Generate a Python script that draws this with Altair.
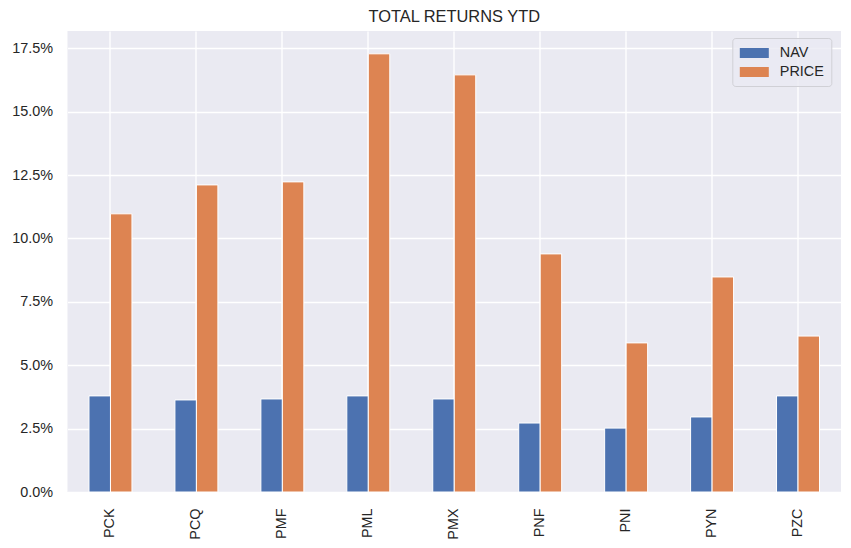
import altair as alt
import pandas as pd

funds = ["PCK", "PCQ", "PMF", "PML", "PMX", "PNF", "PNI", "PYN", "PZC"]
nav = [3.79, 3.63, 3.67, 3.79, 3.67, 2.72, 2.52, 2.96, 3.79]
price = [10.97, 12.11, 12.23, 17.28, 16.45, 9.39, 5.88, 8.48, 6.15]
series = ["NAV", "PRICE"]
colors = ["#4c72b0", "#dd8452"]
y_ticks = [0, 2.5, 5.0, 7.5, 10.0, 12.5, 15.0, 17.5]
y_max = 18.18

df = pd.DataFrame({
    "fund": funds * 2,
    "series": ["NAV"] * len(funds) + ["PRICE"] * len(funds),
    "value": nav + price,
})

FONT = "Liberation Sans"
TXT = "#262626"

bars = alt.Chart(df).mark_bar(stroke="white", strokeWidth=1).encode(
    x=alt.X(
        "fund:N", sort=funds, title=None,
        scale=alt.Scale(paddingInner=0.5, paddingOuter=0.25),
        axis=alt.Axis(labelAngle=270, bandPosition=0.5, labelPadding=16, ticks=False,
                      domain=False, grid=True, gridColor="white", gridWidth=1.3,
                      labelFontSize=14.4, labelColor=TXT, labelFont=FONT),
    ),
    xOffset=alt.XOffset("series:N", sort=series,
                        scale=alt.Scale(paddingInner=0, paddingOuter=0)),
    y=alt.Y(
        "value:Q", title=None,
        scale=alt.Scale(domain=[0, y_max], nice=False),
        axis=alt.Axis(values=y_ticks, labelExpr="format(datum.value, '.1f') + '%'",
                      ticks=False, domain=False, grid=True, gridColor="white", gridWidth=1.3,
                      labelPadding=15, labelFontSize=14.4, labelColor=TXT, labelFont=FONT,
                      minExtent=56, maxExtent=56),
    ),
    color=alt.Color(
        "series:N", sort=series,
        scale=alt.Scale(domain=series, range=colors),
        legend=alt.Legend(
            title=None, orient="none", legendX=664.8, legendY=7.0,
            symbolType="M-1,-0.667H2.867V0.667H-1Z", symbolSize=225,
            symbolStrokeWidth=0, symbolOpacity=1,
            labelOffset=25, labelFontSize=14.4, labelColor=TXT, labelFont=FONT,
            fillColor="rgba(234,234,242,0.8)", strokeColor="#d0d0d6", cornerRadius=3,
            padding=7.5, rowPadding=4,
        ),
    ),
)

chart = bars.properties(
    width=773.5, height=461,
    padding={"left": 3.5, "top": 0, "right": 0, "bottom": 0},
    title=alt.Title("TOTAL RETURNS YTD", fontSize=16.4, font=FONT, color=TXT,
                    fontWeight="normal", offset=6),
).configure(font=FONT).configure_view(fill="#EAEAF2", strokeWidth=0)

chart.save("out.html", embed_options={"renderer": "svg", "actions": False})
